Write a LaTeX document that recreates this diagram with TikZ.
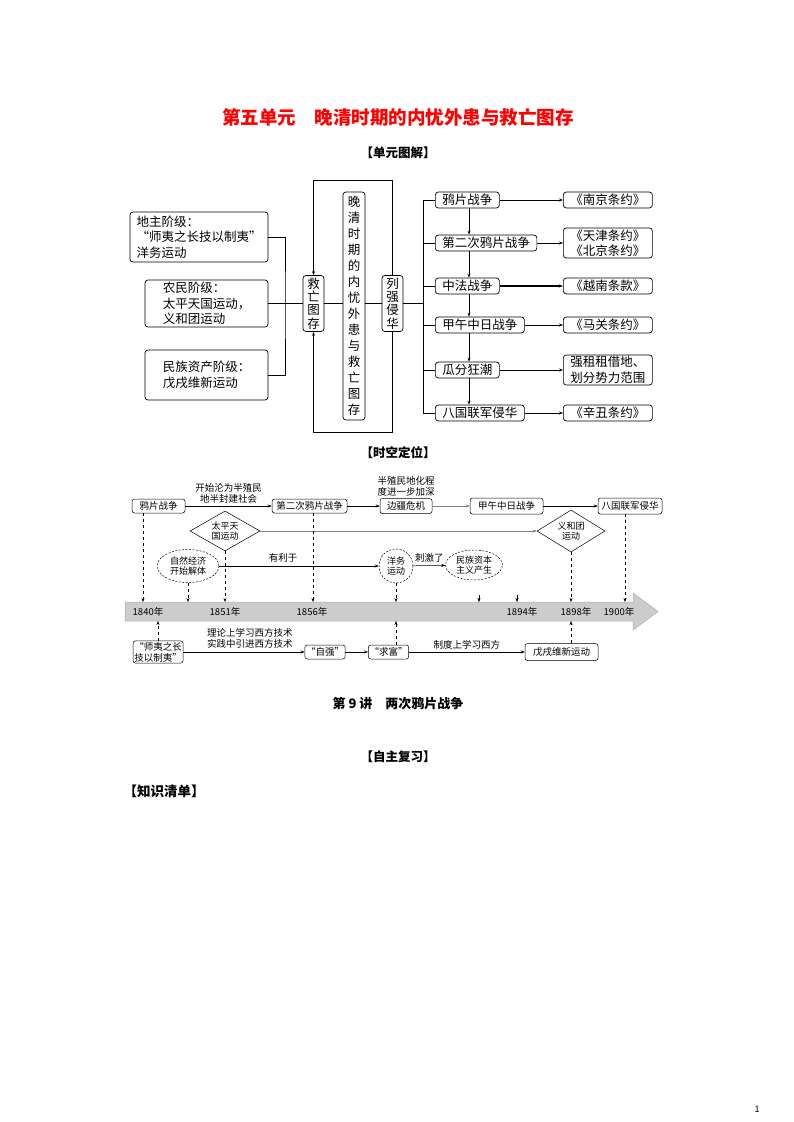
\documentclass[tikz,border=0pt]{standalone}
\usepackage{fontspec}
\usepackage{tikz}
\newfontfamily\cjk{Noto Sans CJK SC}
\usetikzlibrary{arrows.meta,shapes.geometric,positioning,calc}

\begin{document}
\begin{tikzpicture}[x=1pt, y=1pt, >={Stealth[length=4pt,width=3pt]},
	every node/.style={font=\cjk},
	head/.style={font=\cjk\bfseries\fontsize{12.5}{12.5}\selectfont},
	lbox/.style={draw, rounded corners=3pt, line width=0.7pt, align=left, inner sep=1.5pt, font=\cjk\fontsize{12.5}{15.5}\selectfont},
	vbox/.style={draw, rounded corners=3pt, line width=0.7pt, align=center, inner sep=1pt, font=\cjk\fontsize{12.5}{13.4}\selectfont},
	rbox/.style={draw, rounded corners=3pt, line width=0.7pt, align=center, inner xsep=7pt, inner ysep=1.5pt, minimum height=16pt, font=\cjk\fontsize{12.5}{15.5}\selectfont},
	tbox/.style={draw, rounded corners=2.5pt, line width=0.5pt, align=center, inner sep=1.2pt, minimum height=14pt, font=\cjk\fontsize{9.5}{11}\selectfont},
	dmd/.style={draw, diamond, line width=0.5pt, align=center, inner sep=0pt, shape aspect=1.8, font=\cjk\fontsize{9}{10.5}\selectfont},
	ell/.style={draw, ellipse, dash pattern=on 2pt off 1.5pt, line width=0.5pt, align=center, inner sep=0pt, font=\cjk\fontsize{9}{10.5}\selectfont},
	lab/.style={align=center, inner sep=1pt, font=\cjk\fontsize{9.5}{11}\selectfont},
	dline/.style={dashed, ->, line width=0.5pt}]
	\useasboundingbox (0,0) rectangle (793,-1122);
	% headings
	\node[text=red, font=\cjk\bfseries\fontsize{18.5}{18.5}\selectfont] (title) at (398,-117) {第五单元\quad 晚清时期的内忧外患与救亡图存};
	\node[head] (tujie) at (398,-153) {【单元图解】};
	
	% left: three classes
	\node[lbox, minimum width=138, minimum height=50] (land) at (199,-237) {地主阶级：\\“师夷之长技以制夷”\\洋务运动};
	\node[lbox, minimum width=123, minimum height=47] (peas) at (206.5,-303.5) {农民阶级：\\太平天国运动，\\义和团运动};
	\node[lbox, minimum width=123, minimum height=50] (bour) at (206.5,-375) {民族资产阶级：\\戊戌维新运动};
	\coordinate (brk) at (285,-303.5);
	\draw[line width=0.8pt] (land.east) -| (brk) |- (bour.east);
	
	% middle frame
	\node[vbox, minimum width=21, minimum height=56] (save) at (313.5,-303.5) {救\\亡\\图\\存};
	\node[vbox, minimum width=22, minimum height=228, font=\cjk\fontsize{12.5}{16}\selectfont] (mid) at (354,-306) {晚\\清\\时\\期\\的\\内\\忧\\外\\患\\与\\救\\亡\\图\\存};
	\node[vbox, minimum width=21, minimum height=56] (invade) at (392.5,-303.5) {列\\强\\侵\\华};
	\coordinate (rtop) at (0,-180);
	\coordinate (rbot) at (0,-432);
	\draw[->, line width=0.7pt] (invade.north) -- (invade.north |- rtop) -- (save.north |- rtop) -- (save.north);
	\draw[->, line width=0.7pt] (invade.south) -- (invade.south |- rbot) -- (save.south |- rbot) -- (save.south);
	\draw[line width=0.8pt] (peas.east) -- (save.west);
	\draw[line width=0.8pt] (save.east) -- (save.east -| mid.west);
	\draw[line width=0.8pt] (mid.east |- invade.west) -- (invade.west);
	
	% right: wars and treaties
	\coordinate (trunk) at (423,0);
	\foreach \i/\yy/\war/\res/\lw in {1/200/鸦片战争/《南京条约》/0.7,
		2/243/第二次鸦片战争/{《天津条约》\\《北京条约》}/0.7,
		3/286/中法战争/《越南条款》/1.3,
		4/325/甲午中日战争/《马关条约》/0.7,
		5/370/瓜分狂潮/{强租租借地、\\划分势力范围}/0.7,
		6/413/八国联军侵华/《辛丑条约》/0.7}
	{
		\node[rbox, anchor=west] (war\i) at (435,-\yy) {\war};
		\node[rbox, anchor=west, minimum width=88] (res\i) at (563,-\yy) {\res};
		\draw[->, line width=\lw pt] (war\i) -- (res\i);
		\draw[line width=0.8pt] (war\i.west) -- (war\i.west -| trunk);
	}
	\draw[line width=0.8pt] (war1.west -| trunk) -- (war6.west -| trunk);
	\draw[line width=0.8pt] (invade.east) -- (invade.east -| trunk);
	\foreach \i/\j in {1/2,2/3,3/4,4/5,5/6}
	\draw[->, line width=0.7pt] ($(war\i.south west)+(34,0)$) -- ($(war\j.north west)+(34,0)$);
	
	\node[head] (dingwei) at (398,-453) {【时空定位】};
	
	% timeline: upper row
	\node[tbox, minimum width=53] (opium) at (158.5,-506) {鸦片战争};
	\node[tbox, minimum width=75] (opium2) at (309.5,-506) {第二次鸦片战争};
	\node[tbox, minimum width=52, minimum height=15] (border) at (406,-506) {边疆危机};
	\node[tbox, minimum width=73, minimum height=16] (jiawu) at (506.5,-506) {甲午中日战争};
	\node[tbox, minimum width=64, minimum height=16] (baguo) at (630,-506) {八国联军侵华};
	\draw[->, line width=0.5pt] (opium) -- (opium2) node[lab, midway, above=1pt] {开始沦为半殖民\\地半封建社会};
	\draw[->, line width=0.5pt] (opium2) -- (border);
	\node[lab, above=1pt of border] (deepen) {半殖民地化程\\度进一步加深};
	\draw[->, gray, line width=0.4pt] (border) -- (jiawu);
	\draw[->, line width=0.5pt] (jiawu) -- (baguo);
	
	\node[dmd, minimum width=70, minimum height=40] (taiping) at (225,-531) {太平天\\国运动};
	\node[dmd, minimum width=68, minimum height=42] (yihe) at (571,-531) {义和团\\运动};
	\draw[->, gray, line width=0.4pt] (taiping) -- (yihe);
	
	\node[ell, minimum width=62, minimum height=33] (natural) at (188,-566) {自然经济\\开始解体};
	\node[ell, minimum width=34, minimum height=34] (yangwu) at (396,-566) {洋务\\运动};
	\node[ell, minimum width=57, minimum height=30] (capital) at (474,-565) {民族资本\\主义产生};
	\draw[->, line width=0.5pt] (natural) -- (yangwu) node[lab, pos=0.4, above=2pt] {有利于};
	\draw[->, line width=0.5pt] (yangwu) -- (capital) node[lab, midway, above=2pt] {刺激了};
	
	% the time bar
	\filldraw[fill=gray!40, draw=gray!65, line width=0.5pt] (125,-602) -- (633,-602) -- (633,-593) -- (658,-611.5) -- (633,-630) -- (633,-621) -- (125,-621) -- cycle;
	\coordinate (up) at (0,-602);
	\coordinate (dn) at (0,-621);
	\foreach \yr/\xx in {1840/148, 1851/225, 1856/312, 1894/522, 1898/576, 1900/619}
	\node[lab] (y\yr) at (\xx,-611.5) {\yr 年};
	\coordinate (xa) at (143,0);
	\coordinate (xb) at (313,0);
	\coordinate (xc) at (625,0);
	\draw[dline] (opium.south -| xa) -- (xa |- up);
	\draw[dline] (natural.south) -- (natural.south |- up);
	\draw[dline] (taiping.south) -- (taiping.south |- up);
	\draw[dline] (opium2.south -| xb) -- (xb |- up);
	\draw[dline] (yangwu.south) -- (yangwu.south |- up);
	\draw[dline] (yihe.south) -- (yihe.south |- up);
	\draw[dline] (baguo.south -| xc) -- (xc |- up);
	\coordinate (tk1) at (479,-595);
	\coordinate (tk2) at (517,-595);
	\draw[->, line width=0.4pt] (tk1) -- (tk1 |- up);
	\draw[->, line width=0.4pt] (tk2) -- (tk2 |- up);
	
	% timeline: lower row
	\node[tbox, minimum width=50, minimum height=22] (shiyi) at (158,-652) {“师夷之长\\技以制夷”};
	\node[tbox, minimum width=36] (ziqiang) at (325,-652) {“自强”};
	\node[tbox, minimum width=37] (qiufu) at (388.5,-652) {“求富”};
	\node[tbox, minimum width=73, minimum height=17] (wuxu) at (561.5,-652) {戊戌维新运动};
	\draw[->, line width=0.5pt] (shiyi) -- (ziqiang) node[lab, pos=0.55, above=2pt] {理论上学习西方技术\\实践中引进西方技术};
	\draw[->, line width=0.7pt] (ziqiang) -- (qiufu);
	\draw[->, line width=0.4pt] (qiufu) -- (wuxu) node[lab, midway, above=2pt] {制度上学习西方};
	\draw[dline] (shiyi.north) -- (shiyi.north |- dn);
	\draw[dline] (qiufu.north -| yangwu) -- (yangwu |- dn);
	\draw[dline] (wuxu.north -| yihe) -- (yihe |- dn);
	
	% lesson headings
	\node[font=\cjk\bfseries\fontsize{13}{13}\selectfont] (lesson) at (398,-704) {第 9 讲\quad 两次鸦片战争};
	\node[head] (review) at (398,-757) {【自主复习】};
	\node[head, anchor=west, font=\cjk\bfseries\fontsize{13.5}{13.5}\selectfont] (list) at (120,-791) {【知识清单】};
	\node[font=\cjk\fontsize{9}{9}\selectfont] (page) at (757,-1109) {1};
\end{tikzpicture}
\end{document}
